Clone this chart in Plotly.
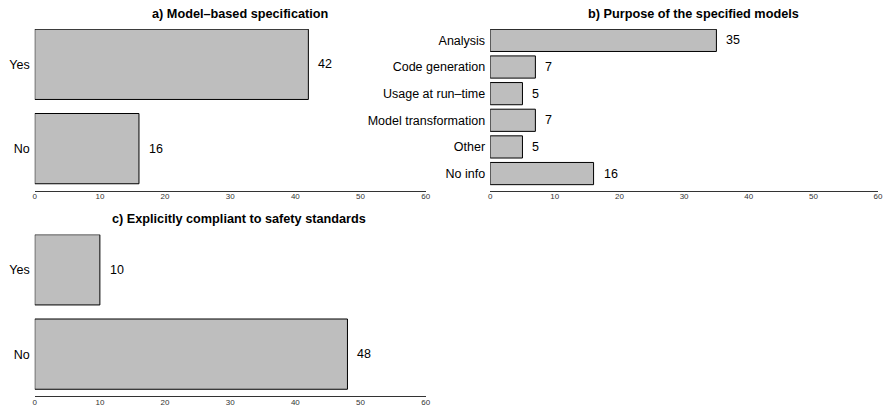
import plotly.graph_objects as go

# Survey counts for the three panels
spec_labels = ["Yes", "No"]
spec_counts = [42, 16]

purpose_labels = ["Analysis", "Code generation", "Usage at run\u2013time",
                  "Model transformation", "Other", "No info"]
purpose_counts = [35, 7, 5, 7, 5, 16]

safety_labels = ["Yes", "No"]
safety_counts = [10, 48]

x_ticks = [0, 10, 20, 30, 40, 50, 60]

W, H = 889, 407
FONT = "Liberation Sans, Arial, Helvetica, sans-serif"
BAR_FILL = "#bebebe"
LABEL_SIZE = 12.5


def fx(px):
    return px / W


def fy(px):
    return 1 - px / H


fig = go.Figure()

panels = [
    # labels, counts, axis suffix, x pixel span, y pixel span (top, bottom), title, title x, title y
    (spec_labels, spec_counts, "", (33, 427), (29, 191), "a) Model\u2013based specification", 240, 14),
    (purpose_labels, purpose_counts, "2", (492, 883), (29, 191), "b) Purpose of the specified models", 697, 14),
    (safety_labels, safety_counts, "3", (33, 427), (235, 397), "c) Explicitly compliant to safety standards", 239, 220),
]

for labels, counts, sfx, (x0, x1), (ytop, ybot), title, tx, ty in panels:
    n = len(labels)
    # bottom category first so the list reads top-to-bottom
    order = list(reversed(labels))
    fig.add_trace(go.Bar(
        x=counts, y=labels, orientation="h",
        marker=dict(color=BAR_FILL, line=dict(color="#000000", width=1)),
        xaxis="x" + sfx, yaxis="y" + sfx, showlegend=False,
        hoverinfo="x+y",
    ))
    for lab, v in zip(labels, counts):
        fig.add_annotation(
            x=v, y=lab, xref="x" + sfx, yref="y" + sfx,
            text=str(v), showarrow=False, xanchor="left", yanchor="middle",
            xshift=8, font=dict(family=FONT, size=LABEL_SIZE, color="#000000"),
        )
    fig.add_annotation(
        x=fx(tx), y=fy(ty), xref="paper", yref="paper",
        text="<b>" + title + "</b>", showarrow=False,
        xanchor="center", yanchor="middle",
        font=dict(family=FONT, size=12.7, color="#000000"),
    )

    # y range: bars are 1/1.2 of a slot, bottom edge sits slightly below the last bar
    if n == 2:
        yr = [-0.497, 1.42]
    else:
        yr = [-0.637, n - 1 + 0.43]

    fig.update_layout(**{
        "xaxis" + sfx: dict(
            domain=[fx(x0), fx(x1)], range=[0, 60], anchor="y" + sfx,
            tickvals=x_ticks, showline=True, linecolor="#333333", linewidth=1,
            showgrid=False, zeroline=False, ticks="", ticklen=0,
            ticklabelstandoff=-2,
            tickfont=dict(family=FONT, size=8, color="#333333"),
            fixedrange=True,
        ),
        "yaxis" + sfx: dict(
            domain=[fy(ybot), fy(ytop)], anchor="x" + sfx,
            categoryorder="array", categoryarray=order, range=yr,
            showline=False, showgrid=False, zeroline=False, ticks="",
            ticklabelstandoff=4,
            tickfont=dict(family=FONT, size=LABEL_SIZE, color="#000000"),
            fixedrange=True,
        ),
    })

fig.update_layout(
    width=W, height=H,
    margin=dict(l=0, r=0, t=0, b=0),
    paper_bgcolor="#ffffff", plot_bgcolor="#ffffff",
    bargap=1 - 1 / 1.2,
    font=dict(family=FONT),
)

fig.write_html("out.html")
